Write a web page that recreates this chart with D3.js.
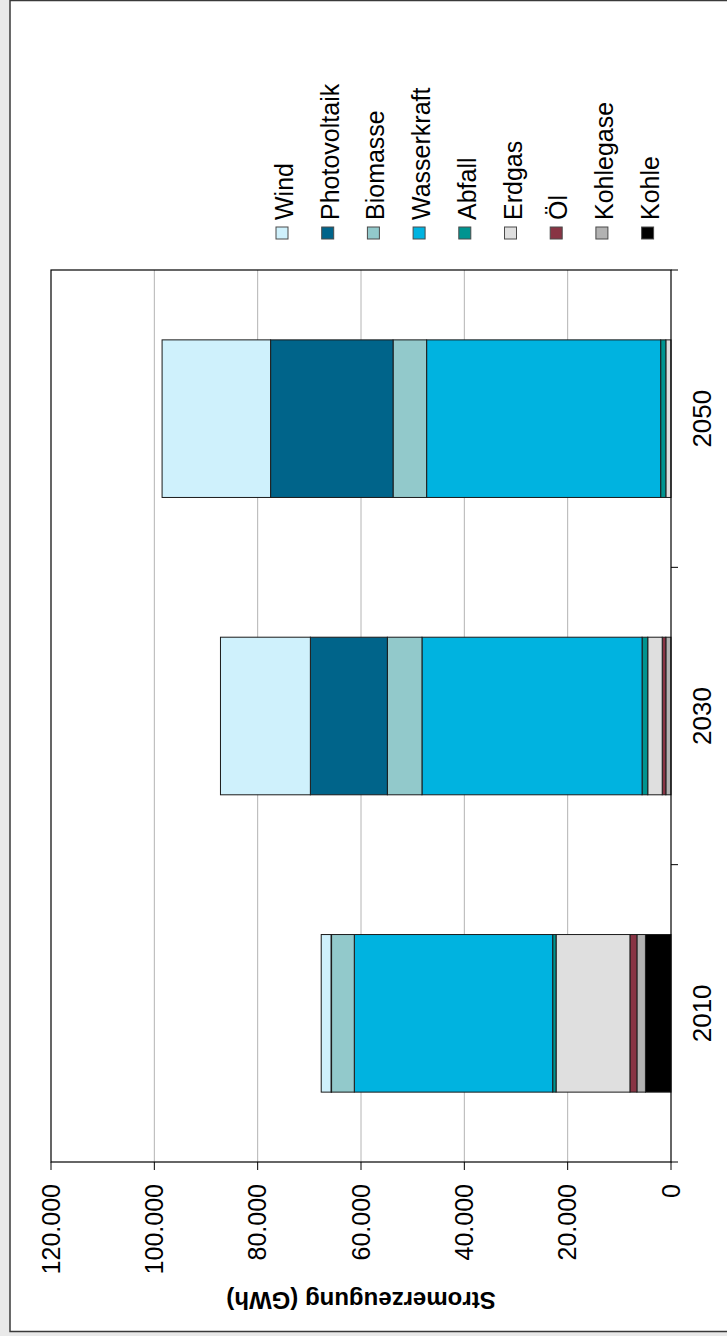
<!DOCTYPE html>
<html lang="de">
<head>
    <meta charset="UTF-8">
    <title>Stromerzeugung</title>
    <script src="https://d3js.org/d3.v7.min.js"></script>
    <style>
        body { margin: 0; background: #e9e9e9; }
        svg { display: block; }
        text { font-family: "Liberation Sans", Arial, sans-serif; fill: #000; }
    </style>
</head>
<body>
<script>
    // Daten (GWh)
    var years = ["2010", "2030", "2050"];
    var kohle       = [4950, 0, 0];
    var kohlegase   = [1650, 1000, 0];
    var oel         = [1350, 700, 0];
    var erdgas      = [14300, 2800, 1000];
    var abfall      = [650, 1100, 1000];
    var wasserkraft = [38400, 42600, 45300];
    var biomasse    = [4400, 6700, 6500];
    var photovoltaik = [100, 14900, 23700];
    var wind        = [1900, 17400, 21000];

    // Reihenfolge von unten (0) nach oben im Stapel
    var seriesNames = ["Kohle", "Kohlegase", "Öl", "Erdgas", "Abfall", "Wasserkraft", "Biomasse", "Photovoltaik", "Wind"];
    var seriesValues = [kohle, kohlegase, oel, erdgas, abfall, wasserkraft, biomasse, photovoltaik, wind];
    var seriesColors = ["#000000", "#b2b2b2", "#883444", "#dfdfdf", "#009490", "#00b3e0", "#92c9cb", "#00648a", "#cff1fc"];
    var yTicks = [0, 20000, 40000, 60000, 80000, 100000, 120000];

    var W = 727, H = 1336;

    // Tabelle für d3.stack
    var table = years.map(function(yr, i) {
        var row = { year: yr };
        seriesNames.forEach(function(n, j) { row[n] = seriesValues[j][i]; });
        return row;
    });
    var stacked = d3.stack().keys(seriesNames)(table);

    var de = d3.formatLocale({ decimal: ",", thousands: ".", grouping: [3], currency: ["", " €"] });
    var fmt = de.format(",");

    var svg = d3.select("body").append("svg")
        .attr("width", W)
        .attr("height", H);

    // Rahmen
    svg.append("rect")
        .attr("x", 10).attr("y", 0.5)
        .attr("width", W).attr("height", 1331)
        .attr("fill", "#fff")
        .attr("stroke", "#3a3a3a")
        .attr("stroke-width", 1.5);

    // ganzes Diagramm um 90° gedreht: lokal (u,v) -> Bild (v, H-u)
    var g = svg.append("g")
        .attr("transform", "translate(0," + H + ") rotate(-90)");

    // Plotbereich in lokalen Koordinaten ("top" ist in window reserviert)
    var pLeft = 174, pRight = 1066, pTop = 51, pBottom = 671;

    var x = d3.scaleBand()
        .domain(years)
        .range([pLeft, pRight])
        .paddingInner(0.47)
        .paddingOuter(0.235);

    var y = d3.scaleLinear()
        .domain([0, 120000])
        .range([pBottom, pTop]);

    // Gitterlinien
    g.selectAll(".grid")
        .data(yTicks.slice(1, -1))
        .enter().append("line")
        .attr("x1", pLeft).attr("x2", pRight)
        .attr("y1", function(d) { return y(d); })
        .attr("y2", function(d) { return y(d); })
        .attr("stroke", "#b4b4b4")
        .attr("stroke-width", 1);

    // Balken
    g.selectAll(".serie")
        .data(stacked)
        .enter().append("g")
        .attr("fill", function(d, i) { return seriesColors[i]; })
        .selectAll("rect")
        .data(function(d) { return d; })
        .enter().append("rect")
        .attr("x", function(d) { return x(d.data.year); })
        .attr("width", x.bandwidth())
        .attr("y", function(d) { return y(d[1]); })
        .attr("height", function(d) { return y(d[0]) - y(d[1]); })
        .attr("stroke", function(d) { return d[1] > d[0] ? "#1a1a1a" : "none"; })
        .attr("stroke-width", 1);

    // Rahmen des Plotbereichs
    g.append("rect")
        .attr("x", pLeft).attr("y", pTop)
        .attr("width", pRight - pLeft).attr("height", pBottom - pTop)
        .attr("fill", "none")
        .attr("stroke", "#000")
        .attr("stroke-width", 1.2);

    // Werteachse
    g.selectAll(".ytick")
        .data(yTicks)
        .enter().append("line")
        .attr("x1", pLeft - 8).attr("x2", pLeft)
        .attr("y1", function(d) { return y(d); })
        .attr("y2", function(d) { return y(d); })
        .attr("stroke", "#000");

    g.selectAll(".ylabel")
        .data(yTicks)
        .enter().append("text")
        .attr("x", pLeft - 22)
        .attr("y", function(d) { return y(d); })
        .attr("dy", "0.35em")
        .attr("text-anchor", "end")
        .style("font-size", "25px")
        .text(function(d) { return fmt(d); });

    g.append("text")
        .attr("transform", "translate(44," + ((pTop + pBottom) / 2) + ") rotate(-90)")
        .attr("text-anchor", "middle")
        .style("font-size", "24px")
        .style("font-weight", "bold")
        .text("Stromerzeugung (GWh)");

    // Kategorieachse
    var bounds = d3.range(years.length + 1).map(function(i) { return pLeft + i * x.step(); });
    g.selectAll(".xtick")
        .data(bounds)
        .enter().append("line")
        .attr("x1", function(d) { return d; })
        .attr("x2", function(d) { return d; })
        .attr("y1", pBottom).attr("y2", pBottom + 7)
        .attr("stroke", "#000");

    g.selectAll(".xlabel")
        .data(years)
        .enter().append("text")
        .attr("x", function(d) { return x(d) + x.bandwidth() / 2; })
        .attr("y", pBottom + 31)
        .attr("dy", "0.35em")
        .attr("text-anchor", "middle")
        .style("font-size", "26px")
        .text(function(d) { return d; });

    // Legende (Wind oben, Kohle unten)
    var legend = g.selectAll(".legend")
        .data(seriesNames.slice().reverse())
        .enter().append("g")
        .attr("transform", function(d, i) { return "translate(1097," + (282 + i * 45.7) + ")"; });

    legend.append("rect")
        .attr("x", 0).attr("y", -6)
        .attr("width", 12).attr("height", 12)
        .attr("fill", function(d) { return seriesColors[seriesNames.indexOf(d)]; })
        .attr("stroke", "#4a4a4a")
        .attr("stroke-width", 1);

    legend.append("text")
        .attr("x", 19)
        .attr("y", 11)
        .style("font-size", "25px")
        .text(function(d) { return d; });
</script>
</body>
</html>
